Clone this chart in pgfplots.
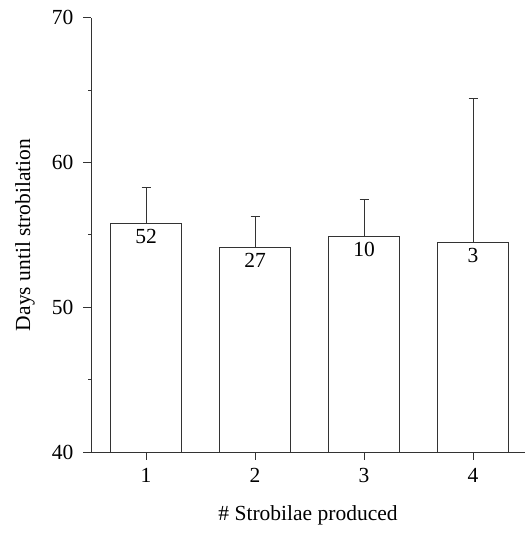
\documentclass[border=0pt]{standalone}
\usepackage{fontspec}
\setmainfont{Liberation Serif}
\usepackage{pgfplots}
\usepackage{pgfplotstable}
\pgfplotsset{compat=1.18}

% days until strobilation, mean + upper error, n per group
\pgfplotstableread{
x  y      err   n
1  55.76  2.50  52
2  54.14  2.11  27
3  54.87  2.56  10
4  54.49  9.95  3
}\strob

\begin{document}
\begin{tikzpicture}
\begin{axis}[
    scale only axis,
    width=434pt, height=434.2pt,
    xmin=0.495, xmax=4.477,
    ymin=40, ymax=70,
    axis x line=bottom, axis y line=left,
    axis line style={-, black!80, line width=0.8pt},
    xtick={1,2,3,4},
    ytick={40,50,60,70},
    minor ytick={45,55,65},
    tick align=outside,
    major tick length=8pt, minor tick length=3pt,
    tick style={black!80, line width=0.8pt},
    font=\fontsize{21.5}{24}\selectfont,
    tick label style={font=\fontsize{21.5}{24}\selectfont},
    yticklabel style={xshift=-6pt},
    xticklabel style={yshift=-5pt},
    /pgf/number format/assume math mode=true,
    every axis y label/.style={at={(axis description cs:0,0.5)}, xshift=-66pt, rotate=90, anchor=center},
    every axis x label/.style={at={(axis description cs:0.5,0)}, yshift=-63pt, anchor=center},
    ylabel={Days until strobilation},
    xlabel={\# Strobilae produced},
]
\addplot[ybar, bar width=0.65, fill=white, draw=black!80, line width=0.8pt,
    nodes near coords, point meta=explicit symbolic,
    every node near coord/.append style={anchor=north, yshift=-2pt, text=black, font=\fontsize{21.5}{24}\selectfont},
    error bars/.cd, y dir=plus, y explicit,
    error bar style={black!80, line width=0.8pt},
    error mark options={rotate=90, mark size=4.5pt, black!80, line width=0.8pt}]
    table[x=x, y=y, y error=err, meta=n] {\strob};
\coordinate (ll) at (rel axis cs:0,0);
\coordinate (ur) at (rel axis cs:1,1);
\end{axis}
\pgfresetboundingbox
\path[use as bounding box] ([shift={(-91pt,-82pt)}]ll) rectangle ([shift={(0pt,17.7pt)}]ur);
\end{tikzpicture}
\end{document}
